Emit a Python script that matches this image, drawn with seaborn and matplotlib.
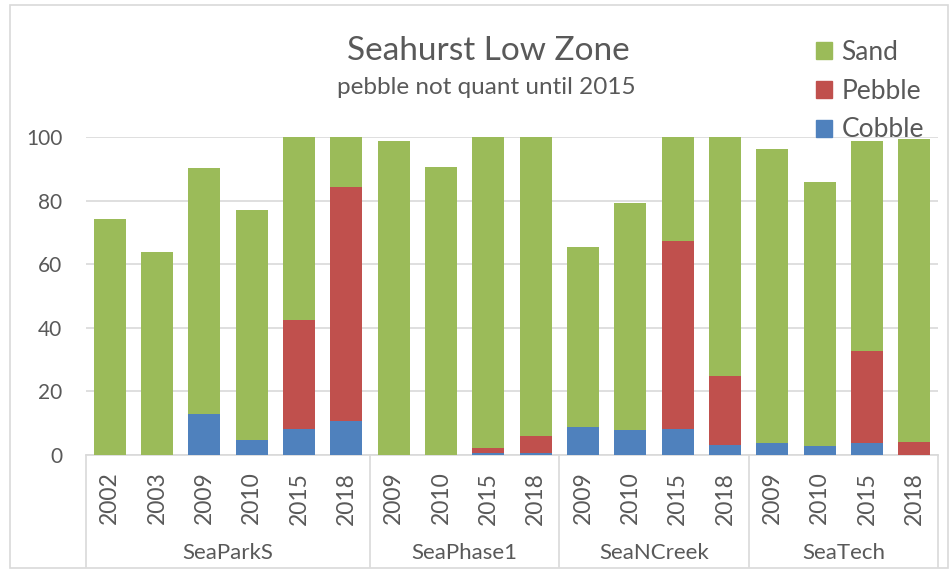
import pandas as pd
import matplotlib.pyplot as plt
import seaborn as sns
from matplotlib.patches import Patch, Rectangle

# values (percent)
sites = ['SeaParkS'] * 6 + ['SeaPhase1'] * 4 + ['SeaNCreek'] * 4 + ['SeaTech'] * 4
years = ['2002', '2003', '2009', '2010', '2015', '2018',
         '2009', '2010', '2015', '2018',
         '2009', '2010', '2015', '2018',
         '2009', '2010', '2015', '2018']
cobble = [0, 0, 13.0, 4.8, 8.1, 10.6,
          0, 0, 0.6, 0.6,
          8.7, 8.0, 8.1, 3.0,
          3.7, 2.9, 3.7, 0]
pebble = [0, 0, 0, 0, 34.3, 73.6,
          0, 0, 1.6, 5.5,
          0, 0, 59.3, 21.9,
          0, 0, 28.9, 4.2]
sand = [74.3, 63.7, 77.1, 72.2, 57.6, 15.8,
        98.7, 90.6, 97.8, 93.9,
        56.8, 71.4, 32.6, 75.1,
        92.5, 82.8, 66.1, 95.2]
groups = ['SeaParkS', 'SeaPhase1', 'SeaNCreek', 'SeaTech']

colors = {'Sand': '#9BBB59', 'Pebble': '#C0504D', 'Cobble': '#4F81BD'}
text_col = '#595959'
grid_col = '#D9D9D9'

df = pd.DataFrame({'site': sites, 'year': years,
                   'cobble': cobble, 'pebble': pebble, 'sand': sand})
df['key'] = df['site'] + ' ' + df['year']
df['pebble_top'] = df['cobble'] + df['pebble']
df['sand_top'] = df['pebble_top'] + df['sand']
order = list(df['key'])

sns.set_style('white')
plt.rcParams['font.family'] = ['Lato', 'DejaVu Sans']

fig = plt.figure(figsize=(9.5, 5.73), dpi=100)
ax = fig.add_axes([86 / 950, 1 - 455 / 573, (938 - 86) / 950, (455 - 137) / 573])

# stacked bars: draw cumulative tops, biggest first
for col, name in [('sand_top', 'Sand'), ('pebble_top', 'Pebble'), ('cobble', 'Cobble')]:
    sns.barplot(data=df, x='key', y=col, order=order, color=colors[name],
                saturation=1, width=0.68, ax=ax, zorder=3, linewidth=0)

ax.set_ylim(0, 100)
ax.set_xlim(-0.5, len(order) - 0.5)
ax.set_yticks(range(0, 101, 20))
ax.yaxis.grid(True, color=grid_col, linewidth=1.2, zorder=0)
ax.set_axisbelow(True)
for s in ['top', 'right', 'left']:
    ax.spines[s].set_visible(False)
ax.spines['bottom'].set_color(grid_col)
ax.spines['bottom'].set_linewidth(1.2)
ax.set_xlabel('')
ax.set_ylabel('')
ax.set_xticks(range(len(order)))
ax.set_xticklabels(years, rotation=90, va='top', ha='center')
ax.tick_params(axis='x', length=0, pad=12, labelsize=16.5, labelcolor=text_col)
ax.tick_params(axis='y', length=0, pad=17, labelsize=15, labelcolor=text_col)

# group separators and group labels under the year labels
bounds = [-0.5, 5.5, 9.5, 13.5, 17.5]
for b in bounds:
    ax.plot([b, b], [0, -0.352], color=grid_col, linewidth=1.2,
            transform=ax.get_xaxis_transform(), clip_on=False)
for g, lo, hi in zip(groups, bounds[:-1], bounds[1:]):
    ax.text((lo + hi) / 2, -0.308, g, transform=ax.get_xaxis_transform(),
            ha='center', va='center', fontsize=16, color=text_col)

# title and subtitle
fig.text(488 / 950, 1 - 51 / 573, 'Seahurst Low Zone', ha='center', va='center',
         fontsize=24, color=text_col)
fig.text(486 / 950, 1 - 88 / 573, 'pebble not quant until 2015', ha='center',
         va='center', fontsize=17.5, color=text_col)

# legend
handles = [Patch(color=colors[n], label=n) for n in ['Sand', 'Pebble', 'Cobble']]
fig.legend(handles=handles, loc='upper left', bbox_to_anchor=(816 / 950, 1 - 40 / 573),
           frameon=False, fontsize=19, handlelength=0.62, handleheight=0.62,
           handletextpad=0.35, labelspacing=0.52, borderpad=0, borderaxespad=0,
           labelcolor=text_col)

# chart area border
fig.patches.append(Rectangle((10 / 950, 5 / 573), 938 / 950, 563 / 573,
                             transform=fig.transFigure, fill=False,
                             edgecolor=grid_col, linewidth=1.2))

fig.savefig('out.png', dpi=100)
